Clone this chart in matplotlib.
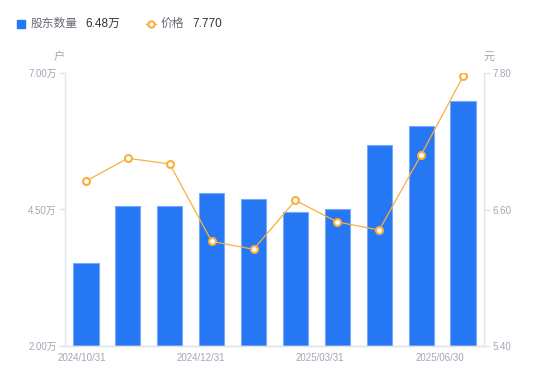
import matplotlib.pyplot as plt
import numpy as np
from matplotlib.lines import Line2D
from matplotlib.patches import Rectangle

plt.rcParams["font.family"] = ["Liberation Sans", "Noto Sans CJK SC", "DejaVu Sans"]

dates = [
    "2024/10/31", "2024/11/20", "2024/11/30", "2024/12/31", "2025/01/20",
    "2025/02/28", "2025/03/31", "2025/04/30", "2025/05/20", "2025/06/30",
]
holders = [3.52, 4.56, 4.56, 4.80, 4.69, 4.45, 4.51, 5.68, 6.03, 6.48]  # 万户
prices = [6.85, 7.05, 7.00, 6.32, 6.25, 6.68, 6.49, 6.42, 7.08, 7.77]
shown_labels = [dates[0], dates[3], dates[6], dates[9]]

BLUE = "#2577f4"
ORANGE = "#f8b03c"
GRAY = "#a3a6b4"
AXIS = "#e3e5ea"

fig = plt.figure(figsize=(5.5, 3.81), dpi=100)
ax = fig.add_axes((65 / 550, 35 / 381, 419 / 550, 273 / 381))
ax2 = ax.twinx()

x = np.arange(len(dates))
ax.bar(x, holders, width=0.6, color=BLUE, edgecolor="#79aaf7", linewidth=0.8, zorder=2)
ax2.plot(x, prices, color=ORANGE, linewidth=0.9, marker="o", markersize=5,
         markerfacecolor="white", markeredgecolor=ORANGE, markeredgewidth=1.5, zorder=3)

ax.set_xlim(-0.5, len(dates) - 0.5)
ax.set_ylim(2.0, 7.0)
ax2.set_ylim(5.4, 7.8)

left_ticks = [2.0, 4.5, 7.0]
ax.set_yticks(left_ticks)
ax.set_yticklabels([f"{v:.2f}万" for v in left_ticks])
right_ticks = [5.4, 6.6, 7.8]
ax2.set_yticks(right_ticks)
ax2.set_yticklabels([f"{v:.2f}" for v in right_ticks])

# x labels are spread evenly, not pinned to the bars
ax.set_xticks(np.linspace(-0.11, 8.44, len(shown_labels)))
ax.set_xticklabels(shown_labels)

for a in (ax, ax2):
    a.spines["top"].set_visible(False)
    for side in ("left", "right", "bottom"):
        a.spines[side].set_color(AXIS)
        a.spines[side].set_linewidth(1)
    a.tick_params(axis="y", colors=AXIS, labelcolor=GRAY, labelsize=7, length=4, width=1, pad=2)
    a.tick_params(axis="x", length=0, labelcolor=GRAY, labelsize=7, pad=5)
ax2.spines["left"].set_visible(False)
ax.spines["right"].set_visible(False)

ax.text(-0.013, 1.059, "户", transform=ax.transAxes, ha="center", va="center",
        fontsize=8, color=GRAY)
ax2.text(1.013, 1.059, "元", transform=ax.transAxes, ha="center", va="center",
         fontsize=8, color=GRAY)

# legend row
fig.patches.append(Rectangle((17 / 550, 1 - 28 / 381), 8 / 550, 8 / 381,
                             transform=fig.transFigure, color=BLUE, figure=fig))
fig.text(31 / 550, 1 - 24 / 381, "股东数量", ha="left", va="center", fontsize=8.5, color="#666a75")
fig.text(85 / 550, 1 - 24 / 381, f"{holders[-1]:.2f}万", ha="left", va="center", fontsize=8.5, color="#333333")
fig.lines.append(Line2D([146 / 550, 156 / 550], [1 - 24 / 381] * 2, transform=fig.transFigure,
                        color=ORANGE, linewidth=1, figure=fig))
fig.lines.append(Line2D([151 / 550], [1 - 24 / 381], transform=fig.transFigure,
                        color=ORANGE, marker="o", markersize=4.5, markerfacecolor="white",
                        markeredgewidth=1.5, linestyle="none", figure=fig))
fig.text(161 / 550, 1 - 24 / 381, "价格", ha="left", va="center", fontsize=8.5, color="#666a75")
fig.text(192 / 550, 1 - 24 / 381, f"{prices[-1]:.3f}", ha="left", va="center", fontsize=8.5, color="#333333")

fig.savefig("out.png", dpi=100)
